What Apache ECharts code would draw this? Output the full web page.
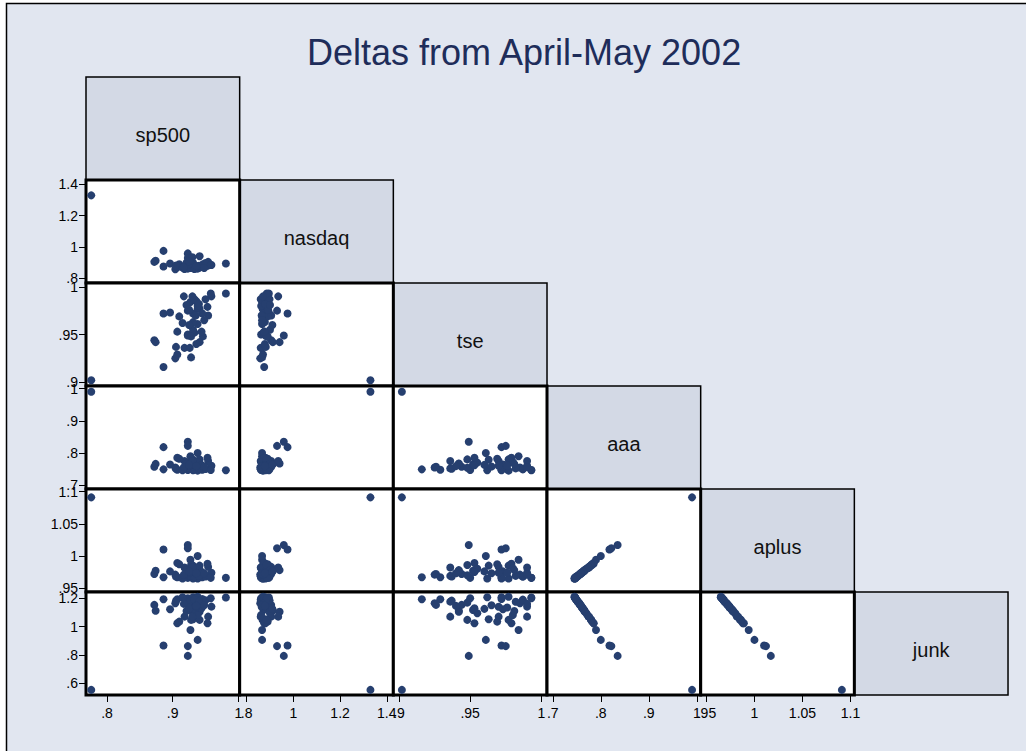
<!DOCTYPE html>
<html><head><meta charset="utf-8">
<script src="https://cdn.jsdelivr.net/npm/echarts@6/dist/echarts.min.js"></script>
<style>html,body{margin:0;padding:0;background:#fff}#c{width:1026px;height:751px}</style>
</head><body><div id="c"></div>
<script>
// ---- data (one observation per index) ----
const varNames = ['sp500', 'nasdaq', 'tse', 'aaa', 'aplus', 'junk'];
const sp500  = [.776,.923,.927,.938,.886,.923, .872,.874,.886,.904,.907,.896,.923,.931,.938,.946,.959,.981,.928,.933,.941,.954,.953,.941,.931,.918,.910,.907,.926,.936,.931,.938,.928,.944,.905,.915,.933,.945,.925,.950,.935,.940,.921,.958,.930,.917,.925,.948,.936];
const nasdaq = [1.330,.959,.866,.866,.975,.930, .905,.912,.875,.858,.870,.895,.862,.880,.870,.890,.885,.895,.866,.872,.941,.905,.880,.868,.878,.860,.890,.875,.866,.872,.900,.862,.885,.876,.882,.868,.860,.874,.892,.898,.864,.880,.900,.886,.935,.870,.910,.866,.878];
const tse    = [.902,.949,.984,.961,.972,.975, .944,.942,.916,.925,.929,.973,.950,.972,.977,.948,.990,.993,.926,.952,.942,.970,.979,.977,.963,.936,.969,.953,.936,.985,.955,.980,.948,.953,.937,.962,.987,.972,.976,.987,.970,.982,.981,.993,.990,.990,.960,.965,.940];
const aaa    = [.990,.835,.790,.800,.818,.822, .757,.766,.749,.755,.748,.764,.747,.746,.745,.754,.760,.746,.757,.765,.767,.775,.785,.780,.779,.775,.782,.785,.752,.755,.770,.772,.780,.762,.751,.746,.749,.748,.761,.750,.760,.752,.766,.747,.775,.756,.763,.758,.759];
const aplus  = [1.091,1.017,.994,1.000,1.010,1.012, .972,.977,.967,.971,.967,.976,.966,.965,.965,.970,.974,.966,.972,.977,.978,.983,.988,.985,.985,.982,.987,.989,.969,.971,.980,.981,.986,.975,.968,.965,.968,.967,.974,.968,.974,.969,.978,.966,.982,.971,.976,.973,.973];
const junk   = [.553,.793,.976,.906,.866,.862, 1.153,1.112,1.193,1.165,1.193,1.122,1.200,1.207,1.211,1.169,1.141,1.205,1.153,1.117,1.105,1.070,1.023,1.047,1.052,1.070,1.035,1.023,1.176,1.165,1.094,1.082,1.047,1.129,1.183,1.207,1.190,1.195,1.135,1.185,1.140,1.175,1.110,1.200,1.070,1.160,1.125,1.150,1.146];

// tick labels per variable
const sp500Ticks  = [0.8, 0.9, 1];
const nasdaqTicks = [0.8, 1, 1.2, 1.4];
const tseTicks    = [0.9, 0.95, 1];
const aaaTicks    = [0.7, 0.8, 0.9, 1];
const aplusTicks  = [0.95, 1, 1.05, 1.1];
const junkTicks   = [0.6, 0.8, 1, 1.2];

const titleText = 'Deltas from April-May 2002';

// ---- layout / styling ----
const values = [sp500, nasdaq, tse, aaa, aplus, junk];
const ticks = [sp500Ticks, nasdaqTicks, tseTicks, aaaTicks, aplusTicks, junkTicks];
const ranges = [[0.768, 1.002], [0.77, 1.428], [0.896, 1.004], [0.688, 1.008], [0.944, 1.104], [0.517, 1.244]];
const X0 = 86, Y0 = 77, CW = 153.67, RH = 103;
const FONT = '"Liberation Sans", Arial, Helvetica, sans-serif';
const fmt = v => String(+(+v).toFixed(3)).replace(/^0\./, '.');

const grids = [], xAxes = [], yAxes = [], series = [], graphics = [];

graphics.push({type: 'rect', z: -10, shape: {x: 6.5, y: 3.5, width: 1040, height: 770},
  style: {fill: '#e1e6f0', stroke: '#000', lineWidth: 1.5}, silent: true});

for (let r = 0; r < 6; r++) {
  // diagonal label box
  const bx = X0 + r * CW, by = Y0 + r * RH;
  graphics.push({type: 'rect', z: 1, shape: {x: bx, y: by, width: CW, height: RH},
    style: {fill: '#d3d9e5', stroke: '#000', lineWidth: 1.5}, silent: true});
  graphics.push({type: 'text', z: 2, x: bx + CW / 2, y: by + RH / 2 + 6,
    style: {text: varNames[r], fill: '#111', font: '20px ' + FONT, align: 'center', verticalAlign: 'middle'}, silent: true});
  for (let c = 0; c < r; c++) {
    const gi = grids.length;
    grids.push({left: X0 + c * CW, top: Y0 + r * RH, width: CW, height: RH,
      show: true, backgroundColor: '#fff', borderColor: '#000', borderWidth: 3, z: 3});
    const showX = (r === 5), showY = (c === 0);
    xAxes.push({gridIndex: gi, type: 'value', min: ranges[c][0], max: ranges[c][1],
      axisLine: {show: false}, splitLine: {show: false},
      axisTick: {show: showX, length: 7, customValues: ticks[c], lineStyle: {color: '#000', width: 1}},
      axisLabel: {show: showX, customValues: ticks[c], formatter: fmt, fontSize: 14, color: '#000', margin: 11, fontFamily: FONT}});
    yAxes.push({gridIndex: gi, type: 'value', min: ranges[r][0], max: ranges[r][1],
      axisLine: {show: false}, splitLine: {show: false},
      axisTick: {show: showY, length: 7, customValues: ticks[r], lineStyle: {color: '#000', width: 1}},
      axisLabel: {show: showY, customValues: ticks[r], formatter: fmt, fontSize: 14, color: '#000', margin: 8, fontFamily: FONT}});
    series.push({type: 'scatter', xAxisIndex: gi, yAxisIndex: gi, z: 4,
      symbol: 'circle', symbolSize: 8, itemStyle: {color: '#263f6f', opacity: 1},
      data: values[c].map((v, k) => [v, values[r][k]])});
  }
}

const chart = echarts.init(document.getElementById('c'), null, {renderer: 'svg'});
chart.setOption({
  animation: false,
  backgroundColor: '#fff',
  title: {text: titleText, left: 307, top: 34, padding: 0,
    textStyle: {fontSize: 36, fontWeight: 'normal', color: '#1e2d5a', fontFamily: FONT}},
  grid: grids, xAxis: xAxes, yAxis: yAxes, series: series, graphic: graphics
});
</script>
</body></html>
